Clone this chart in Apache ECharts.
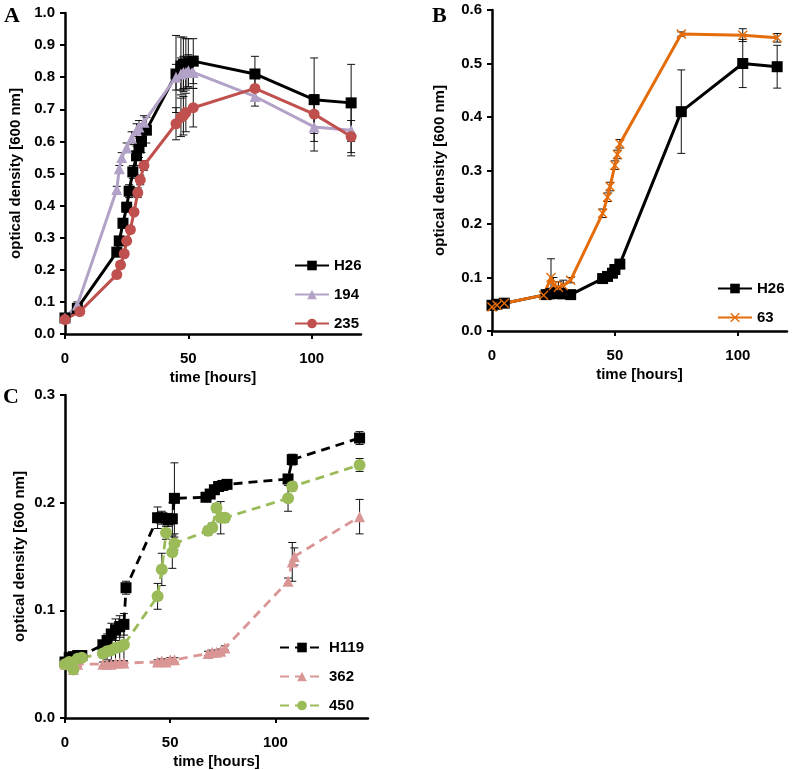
<!DOCTYPE html>
<html>
<head>
<meta charset="utf-8">
<script src="https://cdn.jsdelivr.net/npm/echarts@6/dist/echarts.min.js"></script>
<style>html,body{margin:0;padding:0;background:#fff}#c{width:792px;height:770px}</style>
</head>
<body>
<div id="c"></div>
<script>
// ---------- Panel A ----------
const A_H26_t   = [0, 5, 21, 22, 23.5, 25, 26, 27.5, 29, 30, 31, 33, 45, 47, 48, 49, 50, 52, 77, 101, 116];
const A_H26_v   = [0.05, 0.08, 0.255, 0.29, 0.345, 0.395, 0.445, 0.505, 0.555, 0.58, 0.60, 0.635, 0.81, 0.835, 0.84, 0.84, 0.845, 0.85, 0.81, 0.73, 0.72];
const A_H26_e   = [0.005, 0.01, 0.01, 0.01, 0.015, 0.015, 0.02, 0.02, 0.03, 0.03, 0.035, 0.04, 0.12, 0.09, 0.085, 0.08, 0.075, 0.07, 0.055, 0.13, 0.12];
const A_194_t   = [0, 5, 21, 22, 23, 25, 27, 29, 30, 32, 45, 47, 48, 49, 50, 52, 77, 101, 116];
const A_194_v   = [0.05, 0.09, 0.45, 0.515, 0.55, 0.58, 0.61, 0.635, 0.645, 0.66, 0.80, 0.81, 0.815, 0.815, 0.82, 0.815, 0.74, 0.645, 0.635];
const A_194_e   = [0.005, 0.01, 0.01, 0.01, 0.015, 0.015, 0.02, 0.02, 0.02, 0.02, 0.04, 0.05, 0.05, 0.05, 0.05, 0.05, 0.03, 0.075, 0.08];
const A_235_t   = [0, 6, 21, 22.5, 24, 25, 26.5, 28, 29.5, 30.5, 32, 45, 47, 48, 49, 52, 77, 101, 116];
const A_235_v   = [0.045, 0.07, 0.185, 0.215, 0.25, 0.29, 0.325, 0.38, 0.44, 0.48, 0.525, 0.655, 0.675, 0.68, 0.69, 0.705, 0.765, 0.685, 0.615];
const A_235_e   = [0.005, 0.005, 0.01, 0.01, 0.01, 0.01, 0.01, 0.01, 0.015, 0.015, 0.015, 0.05, 0.06, 0.06, 0.06, 0.06, 0.04, 0.06, 0.05];

// ---------- Panel B ----------
const B_H26_t   = [0, 2, 5, 22, 24, 26, 28, 32, 45, 47, 49, 50, 52, 77, 102, 116];
const B_H26_v   = [0.048, 0.05, 0.052, 0.068, 0.07, 0.072, 0.07, 0.068, 0.098, 0.102, 0.108, 0.115, 0.125, 0.41, 0.50, 0.494];
const B_H26_e   = [0.003, 0.003, 0.003, 0.006, 0.01, 0.01, 0.01, 0.006, 0.004, 0.004, 0.004, 0.004, 0.005, 0.078, 0.045, 0.04];
const B_63_t    = [0, 2, 5, 21, 24, 25, 27, 29, 32, 45, 47, 48, 50, 51, 52, 77, 102, 116];
const B_63_v    = [0.045, 0.048, 0.052, 0.067, 0.10, 0.085, 0.082, 0.085, 0.095, 0.22, 0.25, 0.27, 0.31, 0.33, 0.35, 0.555, 0.553, 0.548];
const B_63_e    = [0.003, 0.003, 0.003, 0.005, 0.035, 0.015, 0.01, 0.01, 0.005, 0.008, 0.008, 0.008, 0.008, 0.008, 0.008, 0.004, 0.012, 0.008];

// ---------- Panel C ----------
const C_H119_t  = [0, 2, 4, 6, 8, 18, 20, 22, 24, 26, 28, 29, 44, 46, 49, 51, 52, 67, 69, 71, 73, 75, 77, 106, 108, 140];
const C_H119_v  = [0.052, 0.056, 0.057, 0.058, 0.058, 0.068, 0.072, 0.078, 0.082, 0.085, 0.087, 0.121, 0.186, 0.186, 0.184, 0.185, 0.204, 0.205, 0.208, 0.212, 0.215, 0.216, 0.217, 0.222, 0.24, 0.26];
const C_H119_e  = [0.003, 0.003, 0.003, 0.003, 0.003, 0.004, 0.006, 0.01, 0.01, 0.01, 0.01, 0.006, 0.01, 0.006, 0.006, 0.015, 0.033, 0.003, 0.003, 0.003, 0.003, 0.003, 0.003, 0.004, 0.005, 0.006];
const C_362_t   = [0, 2, 4, 6, 18, 20, 22, 24, 26, 28, 44, 46, 48, 50, 52, 68, 70, 72, 74, 76, 106, 108, 109, 140];
const C_362_v   = [0.05, 0.05, 0.045, 0.05, 0.05, 0.05, 0.05, 0.051, 0.051, 0.051, 0.052, 0.053, 0.052, 0.054, 0.054, 0.06, 0.061, 0.061, 0.062, 0.065, 0.127, 0.145, 0.15, 0.187];
const C_362_e   = [0.002, 0.002, 0.003, 0.002, 0.002, 0.002, 0.002, 0.002, 0.002, 0.002, 0.002, 0.002, 0.002, 0.002, 0.002, 0.002, 0.002, 0.002, 0.002, 0.002, 0.003, 0.018, 0.008, 0.016];
const C_450_t   = [0, 2, 4, 6, 8, 18, 20, 22, 24, 26, 28, 44, 46, 48, 51, 52, 68, 70, 72, 74, 76, 106, 108, 140];
const C_450_v   = [0.05, 0.052, 0.045, 0.055, 0.056, 0.06, 0.062, 0.063, 0.065, 0.066, 0.068, 0.113, 0.138, 0.172, 0.154, 0.162, 0.174, 0.177, 0.195, 0.186, 0.186, 0.204, 0.215, 0.235];
const C_450_e   = [0.003, 0.003, 0.003, 0.003, 0.003, 0.004, 0.008, 0.01, 0.012, 0.014, 0.015, 0.012, 0.015, 0.006, 0.015, 0.006, 0.004, 0.004, 0.004, 0.015, 0.004, 0.012, 0.004, 0.006];

// ---------- Tick labels ----------
const xTicksAB = [0, 50, 100];
const xTicksC  = [0, 50, 100];

const zip = (t, v) => t.map((x, i) => [x, v[i]]);
const zip3 = (t, v, e) => t.map((x, i) => [x, v[i], e[i]]);

const FONT = '"Liberation Sans", Arial, sans-serif';
const FS = 15;
const X_SYMBOL = 'path://M1,0 L5,4 L9,0 L10,1 L6,5 L10,9 L9,10 L5,6 L1,10 L0,9 L4,5 L0,1 Z';

function errBars(idx, data) {
  return {
    type: 'custom', xAxisIndex: idx, yAxisIndex: idx, silent: true, z: 1,
    data: data, encode: { x: 0, y: 1 },
    renderItem: function (params, api) {
      const x = api.value(0), y = api.value(1), e = api.value(2);
      const t = api.coord([x, y + e]), b = api.coord([x, y - e]);
      const w = 4, st = { stroke: '#111', lineWidth: 1 };
      return { type: 'group', children: [
        { type: 'line', shape: { x1: t[0], y1: t[1], x2: b[0], y2: b[1] }, style: st },
        { type: 'line', shape: { x1: t[0] - w, y1: t[1], x2: t[0] + w, y2: t[1] }, style: st },
        { type: 'line', shape: { x1: b[0] - w, y1: b[1], x2: b[0] + w, y2: b[1] }, style: st }
      ]};
    }
  };
}

function lineSeries(idx, name, data, color, symbol, size, dashed) {
  return {
    type: 'line', name: name, xAxisIndex: idx, yAxisIndex: idx, z: 3,
    data: data, symbol: symbol, symbolSize: size, showSymbol: true,
    lineStyle: { color: color, width: dashed ? 2.8 : 3, type: dashed ? [9, 6] : 'solid' },
    itemStyle: { color: color, opacity: 1 },
    emphasis: { disabled: true }, animation: false
  };
}

function xAxis(idx, max, ticks) {
  return {
    type: 'value', gridIndex: idx, min: 0, max: max,
    name: 'time [hours]', nameLocation: 'middle', nameGap: 36,
    nameTextStyle: { fontFamily: FONT, fontWeight: 'bold', fontSize: FS, color: '#000' },
    axisLine: { lineStyle: { color: '#000', width: 2.5 } },
    axisTick: { show: true, length: 5, inside: false, customValues: ticks, lineStyle: { color: '#000', width: 2 } },
    axisLabel: { customValues: ticks, fontFamily: FONT, fontWeight: 'bold', fontSize: FS, color: '#000', margin: 17 },
    splitLine: { show: false }
  };
}

function yAxis(idx, max, gap) {
  return {
    type: 'value', gridIndex: idx, min: 0, max: max, interval: 0.1,
    name: 'optical density [600 nm]', nameLocation: 'middle', nameGap: gap, nameRotate: 90,
    nameTextStyle: { fontFamily: FONT, fontWeight: 'bold', fontSize: FS, color: '#000' },
    axisLine: { show: true, lineStyle: { color: '#000', width: 2.5 } },
    axisTick: { show: true, length: 5, inside: false, lineStyle: { color: '#000', width: 2 } },
    axisLabel: { fontFamily: FONT, fontWeight: 'bold', fontSize: FS, color: '#000', margin: 10,
                 formatter: v => v.toFixed(1) },
    splitLine: { show: false }
  };
}

function legend(left, top, names, w) {
  return {
    left: left, top: top, orient: 'vertical', itemWidth: w, itemHeight: 12, itemGap: 14,
    data: names, selectedMode: false,
    textStyle: { fontFamily: FONT, fontWeight: 'bold', fontSize: FS, color: '#000' }
  };
}

const chart = echarts.init(document.getElementById('c'), null, { renderer: 'canvas' });
chart.setOption({
  animation: false,
  backgroundColor: '#fff',
  grid: [
    { left: 65, top: 13, width: 296, height: 321 },
    { left: 492, top: 10, width: 295, height: 321 },
    { left: 65, top: 395, width: 303, height: 324 }
  ],
  xAxis: [xAxis(0, 120, xTicksAB), xAxis(1, 120, xTicksAB), xAxis(2, 144, xTicksC)],
  yAxis: [yAxis(0, 1.0, 42), yAxis(1, 0.6, 45), yAxis(2, 0.3, 38)],
  legend: [
    legend(289, 253, ['H26', '194', '235'], 34),
    legend(712, 276, ['H26 ', '63'], 34),
    legend(274, 635, ['H119', '362', '450'], 44)
  ],
  graphic: [
    { type: 'text', left: 4, top: 5, style: { text: 'A', font: 'bold 22px "Liberation Serif", serif', fill: '#000' } },
    { type: 'text', left: 432, top: 5, style: { text: 'B', font: 'bold 22px "Liberation Serif", serif', fill: '#000' } },
    { type: 'text', left: 3, top: 386, style: { text: 'C', font: 'bold 22px "Liberation Serif", serif', fill: '#000' } }
  ],
  series: [
    errBars(0, zip3(A_H26_t, A_H26_v, A_H26_e)),
    errBars(0, zip3(A_194_t, A_194_v, A_194_e)),
    errBars(0, zip3(A_235_t, A_235_v, A_235_e)),
    lineSeries(0, 'H26', zip(A_H26_t, A_H26_v), '#000000', 'rect', 11, false),
    lineSeries(0, '194', zip(A_194_t, A_194_v), '#b3a2c7', 'triangle', 11, false),
    lineSeries(0, '235', zip(A_235_t, A_235_v), '#c0504d', 'circle', 11, false),

    errBars(1, zip3(B_H26_t, B_H26_v, B_H26_e)),
    errBars(1, zip3(B_63_t, B_63_v, B_63_e)),
    lineSeries(1, 'H26 ', zip(B_H26_t, B_H26_v), '#000000', 'rect', 11, false),
    lineSeries(1, '63', zip(B_63_t, B_63_v), '#e46c0a', X_SYMBOL, 10, false),

    errBars(2, zip3(C_H119_t, C_H119_v, C_H119_e)),
    errBars(2, zip3(C_362_t, C_362_v, C_362_e)),
    errBars(2, zip3(C_450_t, C_450_v, C_450_e)),
    lineSeries(2, 'H119', zip(C_H119_t, C_H119_v), '#000000', 'rect', 11, true),
    lineSeries(2, '362', zip(C_362_t, C_362_v), '#d99694', 'triangle', 11, true),
    lineSeries(2, '450', zip(C_450_t, C_450_v), '#9bbb59', 'circle', 12, true)
  ]
});
</script>
</body>
</html>
